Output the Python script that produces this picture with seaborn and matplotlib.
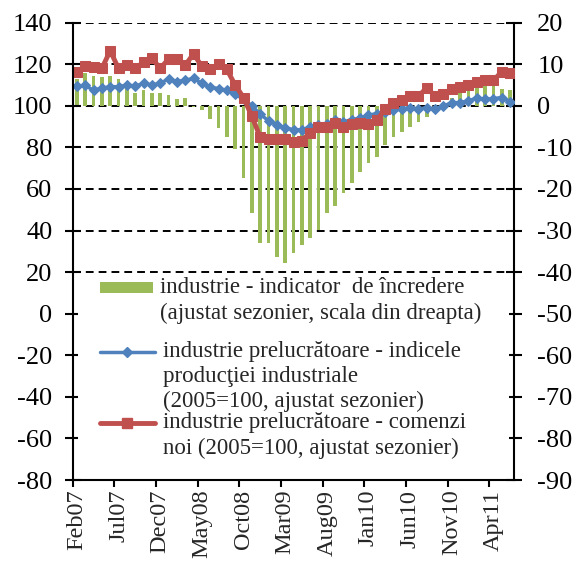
import numpy as np
import pandas as pd
import matplotlib
matplotlib.use('Agg')
import matplotlib.pyplot as plt
from matplotlib.lines import Line2D
from matplotlib.patches import Rectangle
import seaborn as sns

sns.set_style('white')
plt.rcParams['font.family'] = ['Liberation Serif', 'DejaVu Serif']
plt.rcParams['axes.unicode_minus'] = False

verde = '#9BBB59'
albastru = '#4F81BD'
rosu = '#C0504D'

# Date lunare, Feb07 - Jun11
luni = pd.date_range('2007-02-01', '2011-06-01', freq='MS')
etichete_x = ['Feb07', 'Jul07', 'Dec07', 'May08', 'Oct08', 'Mar09',
              'Aug09', 'Jan10', 'Jun10', 'Nov10', 'Apr11']

# industrie - indicator de incredere (scala din dreapta)
incredere = [6.5, 8.0, 7.2, 6.9, 7.2, 6.4, 4.8, 3.2, 3.7, 3.0,
             3.0, 2.6, 1.6, 1.8, -0.3, -1.0, -3.2, -5.4, -7.5, -10.4,
             -17.4, -25.7, -32.9, -32.9, -36.3, -37.9, -35.5, -33.5, -31.7, -29.9,
             -25.8, -24.2, -20.9, -18.6, -15.8, -13.7, -12.4, -9.4, -7.5, -6.4,
             -5.0, -3.8, -2.6, -1.0, 0.6, 1.8, 3.8, 4.0, 4.8, 5.5,
             4.8, 4.0, 3.7]

# industrie prelucratoare - indicele productiei industriale
productie = [109.5, 109.8, 107.5, 108.5, 109.2, 109.2, 110.0, 109.5, 110.8, 110.0,
             110.8, 113.0, 111.7, 112.3, 113.2, 110.8, 109.0, 108.3, 107.5, 105.5,
             103.2, 100.0, 96.0, 92.8, 90.8, 89.5, 88.5, 88.5, 89.8, 91.0,
             91.5, 93.0, 92.3, 93.4, 94.0, 95.5, 96.3, 97.2, 98.0, 98.4,
             99.2, 98.4, 99.2, 98.4, 100.0, 101.5, 101.6, 102.4, 103.8, 103.2,
             103.5, 104.0, 101.8]

# industrie prelucratoare - comenzi noi
comenzi = [116.5, 119.0, 118.5, 118.0, 126.5, 118.0, 119.5, 118.0, 121.0, 123.0,
           118.0, 122.5, 122.5, 119.5, 125.0, 119.0, 117.5, 120.0, 117.5, 110.0,
           104.0, 95.0, 85.0, 84.0, 84.0, 84.0, 82.8, 83.3, 87.0, 89.8,
           89.8, 91.8, 89.8, 91.5, 91.8, 91.5, 93.0, 98.5, 101.5, 103.0,
           104.5, 104.7, 108.7, 104.7, 105.5, 108.0, 109.0, 110.0, 111.5, 112.5,
           112.2, 116.5, 115.8]

df = pd.DataFrame({'luna': luni.strftime('%b%y'),
                   'poz': np.arange(len(luni)) + 0.5,
                   'incredere': incredere,
                   'productie': productie,
                   'comenzi': comenzi})

fig, ax = plt.subplots(figsize=(5.76, 5.63), dpi=100)
fig.subplots_adjust(left=0.1262, right=0.8929, bottom=0.1474, top=0.9597)
ax2 = ax.twinx()
ax.set_zorder(ax2.get_zorder() + 1)
ax.patch.set_visible(False)

# bare pe axa din dreapta
sns.barplot(data=df, x='poz', y='incredere', native_scale=True, width=0.42,
            color=verde, saturation=1, errorbar=None, linewidth=0, ax=ax2)

# linii pe axa din stanga
sns.lineplot(data=df, x='poz', y='productie', color=albastru, marker='D',
             markersize=5, markeredgecolor=albastru, linewidth=2.5, ax=ax)
sns.lineplot(data=df, x='poz', y='comenzi', color=rosu, marker='s',
             markersize=7, markeredgecolor=rosu, linewidth=3.5, ax=ax)

ax.set_ylim(-80, 140)
ax.set_yticks(range(-80, 141, 20))
ax2.set_ylim(-90, 20)
ax2.set_yticks(range(-90, 21, 10))
ax.set_xlim(0, len(luni))

ax.set_xticks(np.arange(0, 51, 5))
ax.set_xticklabels([])
ax.set_xticks(np.arange(0, 51, 5) + 0.5, minor=True)
ax.set_xticklabels(etichete_x, minor=True, rotation=90)

ax.set_xlabel('')
ax.set_ylabel('')
ax2.set_ylabel('')

ax2.yaxis.grid(True, color='black', linestyle=(0, (4, 2.6)), linewidth=1.4)
ax2.set_axisbelow(True)

for s in ['top', 'right']:
    ax.spines[s].set_visible(False)
for s in ['top', 'left', 'bottom']:
    ax2.spines[s].set_visible(False)
for sp in [ax.spines['left'], ax.spines['bottom'], ax2.spines['right']]:
    sp.set_color('black')
    sp.set_linewidth(1.5)

ax.tick_params(axis='y', direction='inout', length=11, width=1.5,
               labelsize=19, pad=9, colors='black', left=True)
ax2.tick_params(axis='y', direction='inout', length=11, width=1.5,
                labelsize=19, pad=11, colors='black', right=True)
ax.tick_params(axis='x', which='major', direction='out', length=5, width=1.5,
               bottom=True, colors='black')
ax.tick_params(axis='x', which='minor', length=0, labelsize=17.5, pad=7)

# legenda (casuta alba peste grila)
ax.add_patch(Rectangle((0.012, 0.018), 0.975, 0.426, transform=ax.transAxes,
                       facecolor='white', edgecolor='none', zorder=5))
ax.add_patch(Rectangle((0.062, 0.409), 0.12, 0.024, transform=ax.transAxes,
                       facecolor=verde, edgecolor='none', zorder=6))
ax.add_line(Line2D([0.062, 0.124, 0.186], [0.280, 0.280, 0.280],
                   transform=ax.transAxes, color=albastru, lw=2.5, marker='D',
                   markersize=5, markevery=[1], zorder=6))
ax.add_line(Line2D([0.062, 0.124, 0.186], [0.125, 0.125, 0.125],
                   transform=ax.transAxes, color=rosu, lw=3.5, marker='s',
                   markersize=7, markevery=[1], zorder=6))

legenda = [
    (0.198, [0.420, 0.365], ['industrie - indicator  de încredere',
                             '(ajustat sezonier, scala din dreapta)']),
    (0.205, [0.280, 0.226, 0.172], ['industrie prelucrătoare - indicele',
                                    'producţiei industriale',
                                    '(2005=100, ajustat sezonier)']),
    (0.205, [0.125, 0.070], ['industrie prelucrătoare - comenzi',
                             'noi (2005=100, ajustat sezonier)']),
]
for x0, ys, randuri in legenda:
    for y, r in zip(ys, randuri):
        ax.text(x0, y, r, transform=ax.transAxes, fontsize=16.5,
                va='center', ha='left', zorder=7)

plt.savefig('out.png', dpi=100, facecolor='white')
